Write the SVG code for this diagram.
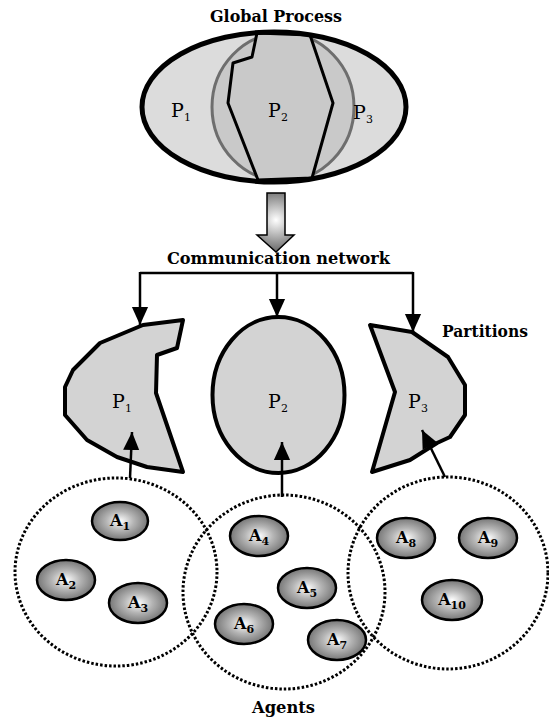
<svg xmlns="http://www.w3.org/2000/svg" width="549" height="722" viewBox="0 0 549 722">
<style>
.lbl{font-family:"DejaVu Serif","Liberation Serif",serif;font-size:16px;font-weight:bold;fill:#000}
.pl{font-family:"DejaVu Serif","Liberation Serif",serif;font-size:19px;fill:#000;text-anchor:middle}
.al{font-family:"DejaVu Serif","Liberation Serif",serif;font-size:16px;font-weight:bold;fill:#000;text-anchor:middle}
.sub{font-size:11px}
.part{fill:#d3d3d3;stroke:#000;stroke-width:4;stroke-linejoin:round}
.conn{stroke:#000;stroke-width:2.5;fill:none}
.grp{fill:none;stroke:#000;stroke-width:3;stroke-dasharray:2.5 2}
.agent{fill:url(#ag);stroke:#000;stroke-width:2.5}
</style>
<defs>
<radialGradient id="ag" cx="0.5" cy="0.5" r="0.55">
<stop offset="0" stop-color="#ffffff"/>
<stop offset="0.45" stop-color="#b4b4b4"/>
<stop offset="1" stop-color="#6a6a6a"/>
</radialGradient>
<radialGradient id="bg" gradientUnits="userSpaceOnUse" cx="276" cy="220" r="30">
<stop offset="0" stop-color="#ffffff"/>
<stop offset="1" stop-color="#707070"/>
</radialGradient>
<marker id="ah" markerUnits="userSpaceOnUse" markerWidth="18" markerHeight="20" refX="20" refY="9" orient="auto" viewBox="0 0 20 18">
<path d="M0,0 L20,9 L0,18 Z" fill="#000"/>
</marker>
</defs>

<g id="global-process">
<text class="lbl" x="210" y="22" textLength="132" lengthAdjust="spacingAndGlyphs">Global Process</text>
<ellipse cx="274" cy="107" rx="132" ry="75" fill="#dcdcdc"/>
<ellipse cx="283" cy="107" rx="71" ry="74" fill="#c9c9c9" stroke="#6e6e6e" stroke-width="3"/>
<polygon points="257,33 252,57 233,63 228,103 258,180 312,178 333,103 310,35" fill="#c9c9c9" stroke="#000" stroke-width="3" stroke-linejoin="round"/>
<ellipse cx="274" cy="107" rx="132" ry="75" fill="none" stroke="#000" stroke-width="5"/>
<text class="pl" x="181" y="117">P<tspan class="sub" dy="4">1</tspan></text>
<text class="pl" x="278" y="117">P<tspan class="sub" dy="4">2</tspan></text>
<text class="pl" x="363" y="119">P<tspan class="sub" dy="4">3</tspan></text>
</g>

<g id="block-arrow">
<polygon points="267,193 285,193 285,235 294,235 276,252 257,235 267,235" fill="url(#bg)" stroke="#000" stroke-width="1.5"/>
</g>

<g id="communication-network">
<text class="lbl" x="167" y="264" textLength="223" lengthAdjust="spacingAndGlyphs">Communication network</text>
</g>

<g id="partition-p1">
<polygon class="part" points="183,320 177,348 157,355 156,393 183,472 147,467 117,457 87,440 65,415 65,387 73,370 100,343 143,325"/>
<text class="pl" x="122" y="408">P<tspan class="sub" dy="4">1</tspan></text>
</g>
<g id="partition-p2">
<ellipse class="part" cx="278.5" cy="395" rx="66" ry="78"/>
<text class="pl" x="278" y="408">P<tspan class="sub" dy="4">2</tspan></text>
</g>
<g id="partition-p3">
<polygon class="part" points="370,325 412,332 448,357 465,385 465,415 450,437 437,443 410,460 372,472 395,392"/>
<text class="pl" x="418" y="408">P<tspan class="sub" dy="4">3</tspan></text>
</g>
<g id="partitions-label">
<text class="lbl" x="442" y="337" textLength="86" lengthAdjust="spacingAndGlyphs">Partitions</text>
</g>

<g id="group-1">
<ellipse class="grp" cx="116" cy="572" rx="101" ry="94"/>
</g>
<g id="group-2">
<ellipse class="grp" cx="284" cy="592" rx="101" ry="97"/>
</g>
<g id="group-3">
<ellipse class="grp" cx="448" cy="573" rx="100" ry="96"/>
</g>

<g id="agent-a1"><ellipse class="agent" cx="120" cy="521" rx="28" ry="19"/><text class="al" x="120" y="526">A<tspan class="sub" dy="4">1</tspan></text></g>
<g id="agent-a2"><ellipse class="agent" cx="66" cy="580" rx="29" ry="20"/><text class="al" x="66" y="585">A<tspan class="sub" dy="4">2</tspan></text></g>
<g id="agent-a3"><ellipse class="agent" cx="138" cy="603" rx="29" ry="20"/><text class="al" x="138" y="608">A<tspan class="sub" dy="4">3</tspan></text></g>
<g id="agent-a4"><ellipse class="agent" cx="259" cy="536" rx="29" ry="20"/><text class="al" x="259" y="541">A<tspan class="sub" dy="4">4</tspan></text></g>
<g id="agent-a5"><ellipse class="agent" cx="307" cy="588" rx="29" ry="20"/><text class="al" x="307" y="593">A<tspan class="sub" dy="4">5</tspan></text></g>
<g id="agent-a6"><ellipse class="agent" cx="244" cy="624" rx="29" ry="20"/><text class="al" x="244" y="629">A<tspan class="sub" dy="4">6</tspan></text></g>
<g id="agent-a7"><ellipse class="agent" cx="337" cy="640" rx="29" ry="20"/><text class="al" x="337" y="645">A<tspan class="sub" dy="4">7</tspan></text></g>
<g id="agent-a8"><ellipse class="agent" cx="406" cy="538" rx="29" ry="20"/><text class="al" x="406" y="543">A<tspan class="sub" dy="4">8</tspan></text></g>
<g id="agent-a9"><ellipse class="agent" cx="488" cy="538" rx="29" ry="20"/><text class="al" x="488" y="543">A<tspan class="sub" dy="4">9</tspan></text></g>
<g id="agent-a10"><ellipse class="agent" cx="452" cy="600" rx="30" ry="20"/><text class="al" x="452" y="605">A<tspan class="sub" dy="4">10</tspan></text></g>

<g id="agents-label">
<text class="lbl" x="252" y="713" textLength="63" lengthAdjust="spacingAndGlyphs">Agents</text>
</g>

<g id="connectors">
<line class="conn" x1="140" y1="273" x2="413" y2="273"/>
<line class="conn" x1="140" y1="272" x2="140" y2="325" marker-end="url(#ah)"/>
<line class="conn" x1="277" y1="272" x2="277" y2="317" marker-end="url(#ah)"/>
<line class="conn" x1="413" y1="272" x2="413" y2="332" marker-end="url(#ah)"/>
<line class="conn" x1="130" y1="478" x2="132" y2="432" marker-end="url(#ah)"/>
<line class="conn" x1="282" y1="497" x2="282" y2="442" marker-end="url(#ah)"/>
<line class="conn" x1="445" y1="477" x2="422" y2="430" marker-end="url(#ah)"/>
</g>
</svg>
